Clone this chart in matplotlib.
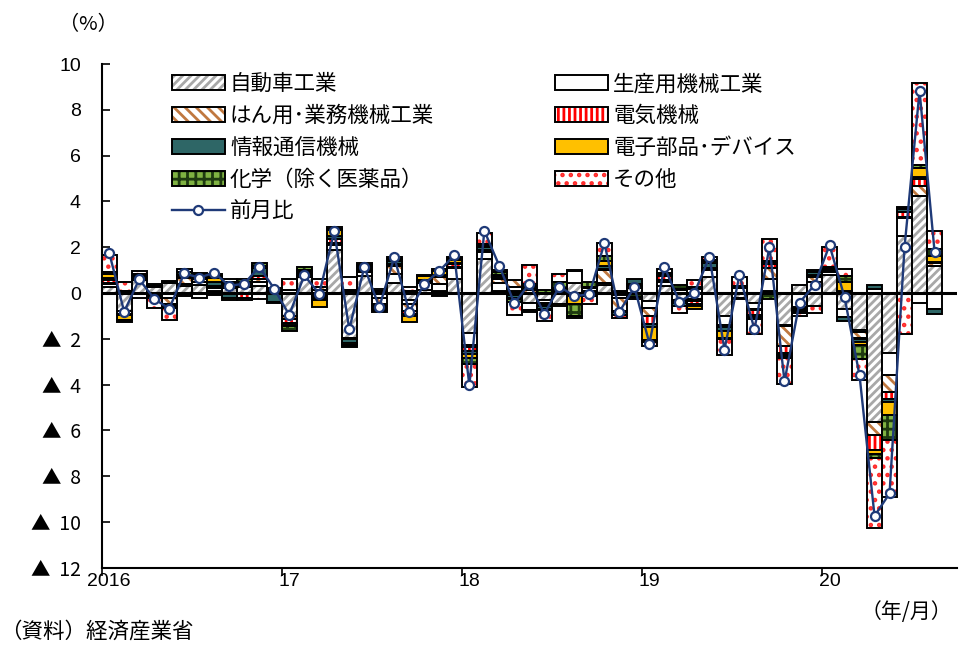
import matplotlib
matplotlib.use('Agg')
import matplotlib.pyplot as plt
import numpy as np
from matplotlib.patches import Patch
from matplotlib.lines import Line2D
from matplotlib.legend_handler import HandlerTuple

plt.rcParams['font.family'] = ['Noto Sans CJK JP', 'DejaVu Sans']
plt.rcParams['hatch.linewidth'] = 2.0

# monthly contributions, 2016/01 - 2020/08 (percentage points)
auto = [0.25, -0.80, 0.55, 0.25, 0.45, 0.30, 0.35, 0.10, 0.20, 0.25, 0.30, 0.10,
        -1.00, 0.70, 0.15, 1.90, -1.95, 0.75, 0.10, 0.45, -0.30, 0.15, 0.10, 0.60,
        -1.75, 1.50, 0.10, 0.10, -0.45, -0.30, -0.50, 0.45, 0.10, 0.35, -0.10, 0.20,
        -0.35, 0.30, -0.30, -0.25, 0.70, -1.00, -0.20, -0.45, 0.10, -1.40, 0.37, -0.55,
        0.80, -0.70, -1.60, -5.63, -2.63, 2.49, 4.24, 1.17]
seisan = [0.15, -0.10, -0.20, -0.15, -0.20, 0.10, 0.15, 0.10, 0.10, 0.10, 0.20, 0.05,
          0.15, 0.10, -0.15, 0.20, 0.10, 0.15, -0.20, 0.40, -0.20, 0.30, 0.30, 0.50,
          -0.50, 0.30, 0.35, 0.15, -0.30, -0.15, 0.10, 0.50, 0.10, 0.10, -0.10, 0.10,
          -0.30, 0.20, 0.12, 0.16, 0.30, -0.40, 0.20, -0.25, 0.50, -0.05, -0.60, 0.50,
          0.10, -0.35, -0.10, 0.17, -0.95, 0.80, -0.44, -0.70]
hanyo = [0.05, 0.05, 0.05, 0.00, -0.30, 0.25, 0.10, 0.10, 0.10, 0.05, 0.10, 0.00,
         -0.15, 0.05, 0.10, 0.10, -0.05, 0.05, -0.30, 0.35, -0.30, 0.05, 0.30, 0.05,
         -0.10, 0.05, 0.15, 0.30, 0.15, -0.05, 0.05, 0.04, 0.05, 0.55, -0.60, 0.10,
         -0.35, 0.05, -0.10, -0.10, 0.05, -0.05, 0.05, -0.05, 0.50, -0.85, -0.05, 0.20,
         0.05, 0.05, -0.25, -0.58, -0.73, 0.03, 0.42, 0.15]
denki = [0.10, 0.05, 0.05, -0.05, -0.05, -0.13, 0.05, -0.10, 0.05, -0.20, 0.15, -0.05,
         -0.15, 0.03, -0.05, 0.15, 0.05, 0.10, -0.05, 0.05, -0.10, 0.03, 0.05, 0.10,
         -0.20, 0.05, 0.05, -0.10, 0.06, -0.05, 0.03, -0.05, -0.05, 0.05, -0.05, 0.00,
         -0.35, 0.20, -0.05, -0.12, 0.05, -0.05, 0.07, -0.20, 0.15, -0.30, -0.05, 0.10,
         0.05, 0.04, -0.05, -0.66, -0.30, 0.20, 0.30, 0.05]
joho = [0.10, -0.05, 0.10, 0.05, -0.10, 0.05, 0.05, 0.20, -0.20, 0.05, 0.35, -0.35,
        -0.05, 0.10, -0.10, 0.15, -0.20, 0.05, -0.10, 0.15, -0.10, 0.05, 0.05, 0.05,
        -0.10, 0.10, 0.10, -0.10, -0.10, -0.15, 0.05, -0.10, -0.05, 0.15, -0.10, 0.20,
        -0.15, 0.05, -0.10, -0.10, 0.20, -0.15, 0.00, -0.10, 0.10, -0.10, -0.10, 0.10,
        0.05, -0.18, -0.15, 0.20, -0.15, 0.15, 0.10, -0.20]
denshi = [0.20, -0.25, 0.05, 0.00, 0.03, 0.10, 0.10, 0.15, -0.10, 0.05, 0.10, 0.03,
          -0.10, 0.03, -0.30, 0.25, -0.07, 0.03, -0.10, 0.05, -0.25, 0.15, 0.17, 0.15,
          -0.20, 0.05, 0.05, -0.05, 0.10, -0.05, -0.07, -0.35, -0.05, 0.20, -0.03, -0.05,
          -0.55, 0.04, 0.05, -0.15, 0.08, -0.30, 0.00, -0.05, 0.05, -0.05, -0.05, 0.05,
          0.05, 0.40, -0.12, -0.18, -0.58, 0.05, 0.40, 0.25]
kagaku = [0.05, -0.05, 0.05, 0.10, 0.05, 0.10, 0.09, 0.09, 0.05, 0.10, 0.10, -0.05,
          -0.20, 0.13, 0.00, 0.05, -0.10, 0.10, -0.07, 0.04, 0.10, 0.05, -0.13, 0.06,
          -0.25, 0.10, 0.10, -0.13, 0.10, 0.13, 0.25, -0.50, 0.25, 0.20, 0.09, -0.12,
          -0.10, 0.05, 0.20, 0.10, 0.05, -0.04, -0.08, -0.05, -0.25, -0.10, -0.04, 0.05,
          0.05, 0.25, -0.60, -0.18, -1.10, 0.05, 0.15, 0.30]
other = [0.75, 0.40, 0.10, -0.45, -0.55, 0.14, -0.20, 0.10, 0.10, -0.10, -0.25, 0.05,
         0.45, -0.05, 0.35, 0.10, 0.55, 0.10, 0.09, 0.10, 0.15, -0.05, 0.10, 0.05,
         -1.00, 0.47, 0.09, -0.60, 0.80, -0.48, 0.35, -0.08, -0.35, 0.58, -0.10, -0.10,
         -0.17, 0.15, -0.34, 0.30, 0.15, -0.70, 0.40, -0.66, 0.95, -1.13, -0.10, -0.31,
         0.87, 0.30, -0.92, -3.03, -2.49, -1.78, 3.57, 0.77]
total = [1.77, -0.82, 0.60, -0.25, -0.69, 0.86, 0.67, 0.89, 0.31, 0.41, 1.14, 0.19,
         -0.96, 0.77, -0.03, 2.69, -1.59, 1.14, -0.61, 1.56, -0.83, 0.41, 0.96, 1.65,
         -4.04, 2.72, 1.18, -0.45, 0.41, -0.91, 0.28, -0.13, -0.06, 2.18, -0.82, 0.26,
         -2.21, 1.14, -0.39, 0.01, 1.58, -2.47, 0.79, -1.59, 2.03, -3.86, -0.42, 0.35,
         2.09, -0.18, -3.60, -9.74, -8.76, 2.02, 8.83, 1.81]

names = ['自動車工業', '生産用機械工業', 'はん用･業務機械工業', '電気機械',
         '情報通信機械', '電子部品･デバイス', '化学（除く医薬品）', 'その他']
year_labels = ['2016', '17', '18', '19', '20']

series = [auto, seisan, hanyo, denki, joho, denshi, kagaku, other]
# face colour, hatch, hatch colour
styles = [('white', '////', '#a8a8a8'),
          ('white', None, None),
          ('white', '\\\\\\', '#c07840'),
          ('white', '|||', '#ff0000'),
          ('#2e6666', None, None),
          ('#ffc000', None, None),
          ('#7fb242', '++', '#1e3a10'),
          ('white', '..', '#ff2a2a')]

fig = plt.figure(figsize=(9.59, 6.48), dpi=100)
ax = fig.add_axes([0.106, 0.124, 0.892, 0.777])

n = len(total)
x = np.arange(n)
pos_base = np.zeros(n)
neg_base = np.zeros(n)
for vals, (face, hatch, hc) in zip(series, styles):
    v = np.array(vals)
    base = np.where(v >= 0, pos_base, neg_base)
    if hatch:
        ax.bar(x, v, 1.0, bottom=base, color=face, edgecolor=hc,
               hatch=hatch, linewidth=0, zorder=2)
        ax.bar(x, v, 1.0, bottom=base, facecolor='none', edgecolor='black',
               linewidth=1.4, zorder=3)
    else:
        ax.bar(x, v, 1.0, bottom=base, facecolor=face, edgecolor='black',
               linewidth=1.4, zorder=3)
    pos_base += np.where(v >= 0, v, 0)
    neg_base += np.where(v < 0, v, 0)

ax.axhline(0, color='black', lw=2.2, zorder=4)
ax.plot(x, total, color='#1f3a78', lw=1.7, marker='o', ms=6.5, mfc='white',
        mec='#1f3a78', mew=1.6, zorder=5)

ax.set_xlim(-0.5, n + 0.5)
ax.set_ylim(-12, 10)
for s in ['top', 'right']:
    ax.spines[s].set_visible(False)
for s in ['left', 'bottom']:
    ax.spines[s].set_linewidth(1.5)

yt = np.arange(-12, 11, 2)
ax.set_yticks(yt)
ax.set_yticklabels([str(v) if v >= 0 else '▲  ' + str(-v) for v in yt],
                   family=['Liberation Sans', 'DejaVu Sans'], fontsize=14)
for lab in ax.get_yticklabels():
    if lab.get_text().startswith('▲'):
        lab.set_family(['Noto Sans CJK JP', 'DejaVu Sans'])
ax.tick_params(axis='y', direction='in', length=6, width=1.2, pad=15)

ax.set_xticks(np.arange(-0.5, n + 1, 12))
ax.set_xticklabels([])
ax.set_xticks(np.arange(0, n, 12), minor=True)
ax.set_xticklabels(year_labels, minor=True, fontsize=14,
                   family=['Liberation Sans', 'DejaVu Sans'])
ax.tick_params(axis='x', which='major', direction='out', length=6, width=1.2)
ax.tick_params(axis='x', which='minor', length=0, pad=4)

handles = []
for (face, hatch, hc) in styles:
    if hatch:
        h = (Patch(facecolor=face, edgecolor=hc, hatch=hatch, linewidth=0),
             Patch(facecolor='none', edgecolor='black', linewidth=1.4))
    else:
        h = Patch(facecolor=face, edgecolor='black', linewidth=1.4)
    handles.append(h)
line_h = Line2D([], [], color='#1f3a78', lw=1.7, marker='o', ms=6.5,
                mfc='white', mec='#1f3a78', mew=1.6)

hmap = {tuple: HandlerTuple(ndivide=1, pad=0)}
left_idx = [0, 2, 4, 6]
right_idx = [1, 3, 5, 7]
leg_kw = dict(loc='upper left', frameon=False, fontsize=15.5,
              handlelength=2.45, handleheight=0.7, handletextpad=0.25,
              labelspacing=0.46, borderpad=0, borderaxespad=0,
              handler_map=hmap)
leg1 = ax.legend([handles[i] for i in left_idx] + [line_h],
                 [names[i] for i in left_idx] + ['前月比'],
                 bbox_to_anchor=(0.082, 0.982), **leg_kw)
ax.add_artist(leg1)
ax.legend([handles[i] for i in right_idx], [names[i] for i in right_idx],
          bbox_to_anchor=(0.53, 0.982), **leg_kw)

fig.text(0.092, 0.962, '（%）', ha='center', va='center', fontsize=14.5)
fig.text(0.993, 0.056, '（年/月）', ha='right', va='center', fontsize=15)
fig.text(0.0, 0.025, '（資料）経済産業省', ha='left', va='center', fontsize=15.5)

fig.savefig('out.png', dpi=100)
